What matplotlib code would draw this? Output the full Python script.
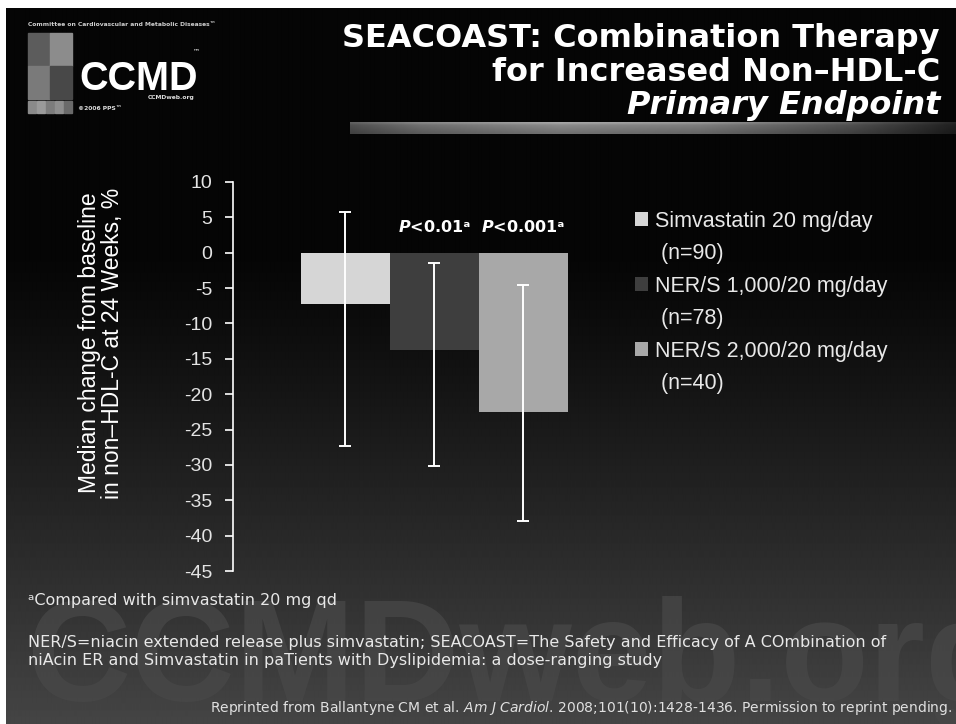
import matplotlib
matplotlib.use("Agg")
import matplotlib.pyplot as plt
from matplotlib.patches import Rectangle
import numpy as np

plt.rcParams['axes.unicode_minus'] = False
plt.rcParams['mathtext.fontset'] = 'custom'
plt.rcParams['mathtext.it'] = 'DejaVu Sans:italic'
plt.rcParams['mathtext.bf'] = 'DejaVu Sans:italic:bold'
plt.rcParams['mathtext.rm'] = 'DejaVu Sans'

# data
groups = ["Simvastatin 20 mg/day", "NER/S 1,000/20 mg/day", "NER/S 2,000/20 mg/day"]
n_pts = [90, 78, 40]
median_change = [-7.3, -13.8, -22.5]
range_low = [-27.3, -30.2, -37.9]
range_high = [5.8, -1.5, -4.6]
p_text = ["", r"$\mathbf{P}$<0.01ᵃ", r"$\mathbf{P}$<0.001ᵃ"]
bar_colors = ['#d6d6d6', '#3e3e3e', '#a8a8a8']
yticks = list(range(10, -50, -5))

W, H = 956, 724
fig = plt.figure(figsize=(W / 100, H / 100), dpi=100, facecolor='white')

# background layer in pixel coords
bg = fig.add_axes([0, 0, 1, 1], zorder=-1)
bg.set_xlim(0, W)
bg.set_ylim(H, 0)
bg.axis('off')

yy = np.arange(8, H)
shade = np.where(yy < 250, 0.02, 0.02 + 0.25 * np.clip((yy - 250) / (H - 250), 0, 1) ** 1.15)
bg.imshow(shade[:, None] * np.ones((1, 4)), cmap='gray', vmin=0, vmax=1,
          extent=(6, W, H, 8), aspect='auto', interpolation='bilinear')

# grey divider bar under title
xs = np.linspace(350, W, 300)
prof = np.interp(xs, [350, 420, 560, 700, 850, 956], [0.30, 0.42, 0.52, 0.47, 0.30, 0.12])
vert = np.array([1.25, 1.05, 1.0, 0.95, 0.9, 0.85])
bg.imshow(np.clip(vert[:, None] * prof[None, :], 0, 1), cmap='gray', vmin=0, vmax=1,
          extent=(350, W, 134, 122), aspect='auto', interpolation='bilinear')

# watermark
bg.text(26, 701, "CCMDweb.org", fontsize=104, fontweight='bold', color='#484848',
        family='Liberation Sans', va='baseline', ha='left', alpha=0.75)

# logo
bg.text(28, 25, "Committee on Cardiovascular and Metabolic Diseases\u2122", fontsize=4.3,
        fontweight='bold', color='#cfcfcf', va='center')
for (x0, y0, c) in [(28, 33, '#5c5c5c'), (50, 33, '#8c8c8c'), (28, 66, '#7a7a7a'), (50, 66, '#484848')]:
    bg.add_patch(Rectangle((x0, y0), 22, 33, color=c))
for k, c in enumerate(['#8a8a8a', '#9a9a9a', '#7c7c7c', '#8e8e8e', '#6a6a6a']):
    bg.add_patch(Rectangle((28 + 9 * k, 101), 8, 12, color=c))
bg.text(79, 90, "CCMD", fontsize=28.5, fontweight='bold', color='white',
        family='Liberation Sans', va='baseline')
bg.text(193, 53, "\u2122", fontsize=5, color='white')
bg.text(148, 99, "CCMDweb.org", fontsize=4.3, fontweight='bold', color='#dddddd')
bg.text(78, 110, "\u00a92006 PPS\u2122", fontsize=4.3, fontweight='bold', color='#dddddd')

# title
bg.text(940, 47, "SEACOAST: Combination Therapy", fontsize=23, fontweight='bold',
        color='white', ha='right', va='baseline')
bg.text(940, 81, "for Increased Non\u2013HDL-C", fontsize=23, fontweight='bold',
        color='white', ha='right', va='baseline')
bg.text(940, 114, "Primary Endpoint", fontsize=23, fontweight='bold', style='italic',
        color='white', ha='right', va='baseline')

# footnotes
bg.text(28, 601, "ᵃCompared with simvastatin 20 mg qd", fontsize=11.5, color='#e8e8e8', va='center')
bg.text(28, 643, "NER/S=niacin extended release plus simvastatin; SEACOAST=The Safety and Efficacy of A COmbination of",
        fontsize=11.5, color='#e8e8e8', va='center')
bg.text(28, 660, "niAcin ER and Simvastatin in paTients with Dyslipidemia: a dose-ranging study",
        fontsize=11.5, color='#e8e8e8', va='center')
bg.text(952, 708, r"Reprinted from Ballantyne CM et al. $\mathit{Am\ J\ Cardiol}$. 2008;101(10):1428-1436. Permission to reprint pending.",
        fontsize=10, color='#e0e0e0', va='center', ha='right')

# chart
ax = fig.add_axes([233 / W, 153 / H, 367 / W, 389 / H])
ax.patch.set_alpha(0)
x = np.arange(len(groups))
med = np.array(median_change)
yerr = [med - np.array(range_low), np.array(range_high) - med]
bars = ax.bar(x, med, width=1.0, color=bar_colors, edgecolor='none', zorder=2)
ax.errorbar(x, med, yerr=yerr, fmt='none', ecolor='white', elinewidth=1.4,
            capsize=4, capthick=1.4, zorder=3)
for i, t in enumerate(p_text):
    if t:
        ax.text(x[i], 3.6, t, fontsize=11.5, fontweight='bold', color='white',
                ha='center', va='center')

ax.set_xlim(-1.264, 2.86)
ax.set_ylim(-45, 10)
ax.set_yticks(yticks)
ax.set_yticklabels([str(v) for v in yticks], family='Liberation Sans', fontsize=14, color='#e4e4e4')
ax.set_xticks([])
for s in ['top', 'right', 'bottom']:
    ax.spines[s].set_visible(False)
ax.spines['left'].set_color('white')
ax.spines['left'].set_linewidth(1.2)
ax.tick_params(axis='y', colors='white', length=6, width=1.2, pad=9, labelcolor='#e4e4e4')

ax.set_ylabel("Median change from baseline\nin non\u2013HDL-C at 24 Weeks, %", family='Liberation Sans',
              fontsize=16.5, color='white', linespacing=1.0)
ax.yaxis.set_label_coords(-0.36, 0.586)
ax.yaxis.label.set_va('center')

blank = Rectangle((0, 0), 1, 1, visible=False)
handles, labels = [], []
for b, g, n in zip(bars, groups, n_pts):
    handles += [b, blank]
    labels += [g, f" (n={n})"]
leg = ax.legend(handles, labels, loc='upper left', bbox_to_anchor=(635 / W, (H - 211) / H),
                bbox_transform=fig.transFigure, frameon=False,
                prop={'family': 'Liberation Sans', 'size': 15.5},
                handlelength=0.62, handleheight=0.62, handletextpad=0.3,
                labelspacing=0.53, borderpad=0, borderaxespad=0)
for t in leg.get_texts():
    t.set_color('#e8e8e8')

fig.savefig("out.png", dpi=100, facecolor=fig.get_facecolor())
